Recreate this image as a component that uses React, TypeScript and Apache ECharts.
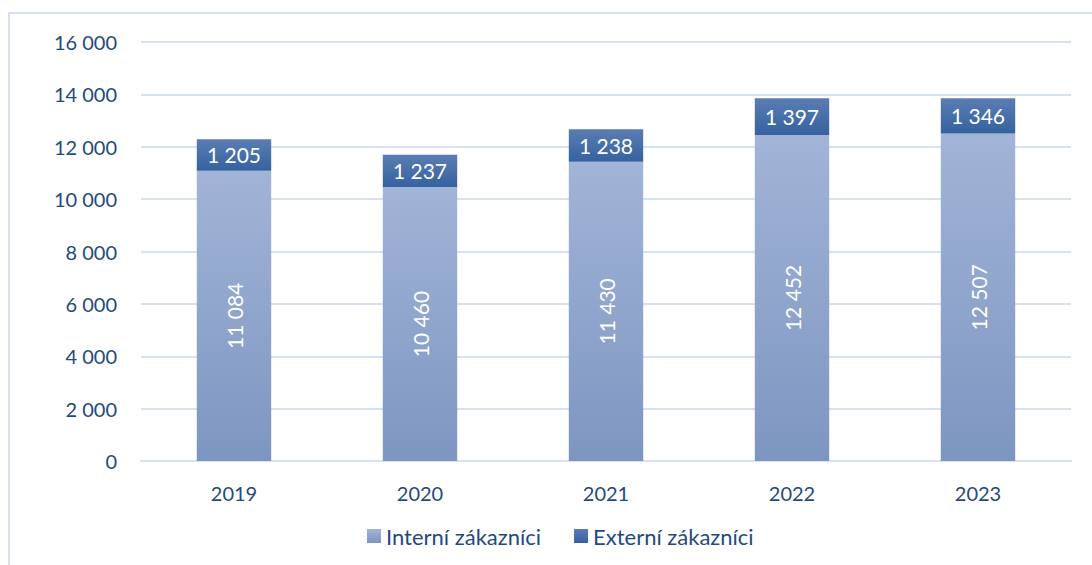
import React, { useEffect, useRef } from "react";
import * as echarts from "echarts";

const years = ["2019", "2020", "2021", "2022", "2023"];
const interni = [11084, 10460, 11430, 12452, 12507];
const externi = [1205, 1237, 1238, 1397, 1346];
const seriesNames = ["Interní zákazníci", "Externí zákazníci"];

const fmt = (v: number) => String(v).replace(/\B(?=(\d{3})+(?!\d))/g, " ");
const FONT = "Lato, 'Liberation Sans', sans-serif";
const TEXT = "#1f4a7e";

export default function App() {
  const ref = useRef<HTMLDivElement>(null);
  useEffect(() => {
    document.body.style.margin = "0";
    const chart = echarts.init(ref.current!, null, { renderer: "svg" });
    chart.setOption({
      animation: false,
      backgroundColor: "#ffffff",
      textStyle: { fontFamily: FONT },
      graphic: [
        {
          type: "rect",
          shape: { x: 9, y: 13, width: 1200, height: 700 },
          style: { fill: "none", stroke: "#d6e2f3", lineWidth: 2 },
          silent: true,
        },
      ],
      grid: { left: 141, right: 21, top: 42, bottom: 104 },
      legend: {
        bottom: 13,
        left: 362,
        itemWidth: 14,
        itemHeight: 14,
        itemGap: 33,
        icon: "rect",
        textStyle: { color: TEXT, fontSize: 22, fontFamily: FONT, padding: [0, 0, 0, 0] },
        data: seriesNames,
      },
      xAxis: {
        type: "category",
        data: years,
        axisLine: { show: true, lineStyle: { color: "#d6e2f3", width: 2 } },
        axisTick: { show: false },
        axisLabel: { color: TEXT, fontSize: 20, margin: 22, fontFamily: FONT },
      },
      yAxis: {
        type: "value",
        min: 0,
        max: 16000,
        interval: 2000,
        axisLine: { show: false },
        axisTick: { show: false },
        splitLine: { lineStyle: { color: "#d6e2f3", width: 2 } },
        axisLabel: {
          color: TEXT,
          fontSize: 20,
          margin: 24,
          fontFamily: FONT,
          formatter: (v: number) => fmt(v),
        },
      },
      series: [
        {
          name: seriesNames[0],
          type: "bar",
          stack: "total",
          barWidth: "40%",
          data: interni,
          itemStyle: {
            color: new echarts.graphic.LinearGradient(0, 0, 0, 1, [
              { offset: 0, color: "#a2b4d7" },
              { offset: 1, color: "#7d96c1" },
            ]),
          },
          label: {
            show: true,
            position: "inside",
            rotate: 90,
            color: "#ffffff",
            fontSize: 21,
            fontFamily: FONT,
            formatter: (p: any) => fmt(p.value),
          },
        },
        {
          name: seriesNames[1],
          type: "bar",
          stack: "total",
          barWidth: "40%",
          data: externi,
          itemStyle: {
            color: new echarts.graphic.LinearGradient(0, 0, 0, 1, [
              { offset: 0, color: "#5a7db3" },
              { offset: 1, color: "#3562a0" },
            ]),
          },
          label: {
            show: true,
            position: "inside",
            color: "#ffffff",
            fontSize: 21,
            fontFamily: FONT,
            formatter: (p: any) => fmt(p.value),
          },
        },
      ],
    });
    return () => chart.dispose();
  }, []);
  return <div ref={ref} style={{ width: 1092, height: 565 }} />;
}
